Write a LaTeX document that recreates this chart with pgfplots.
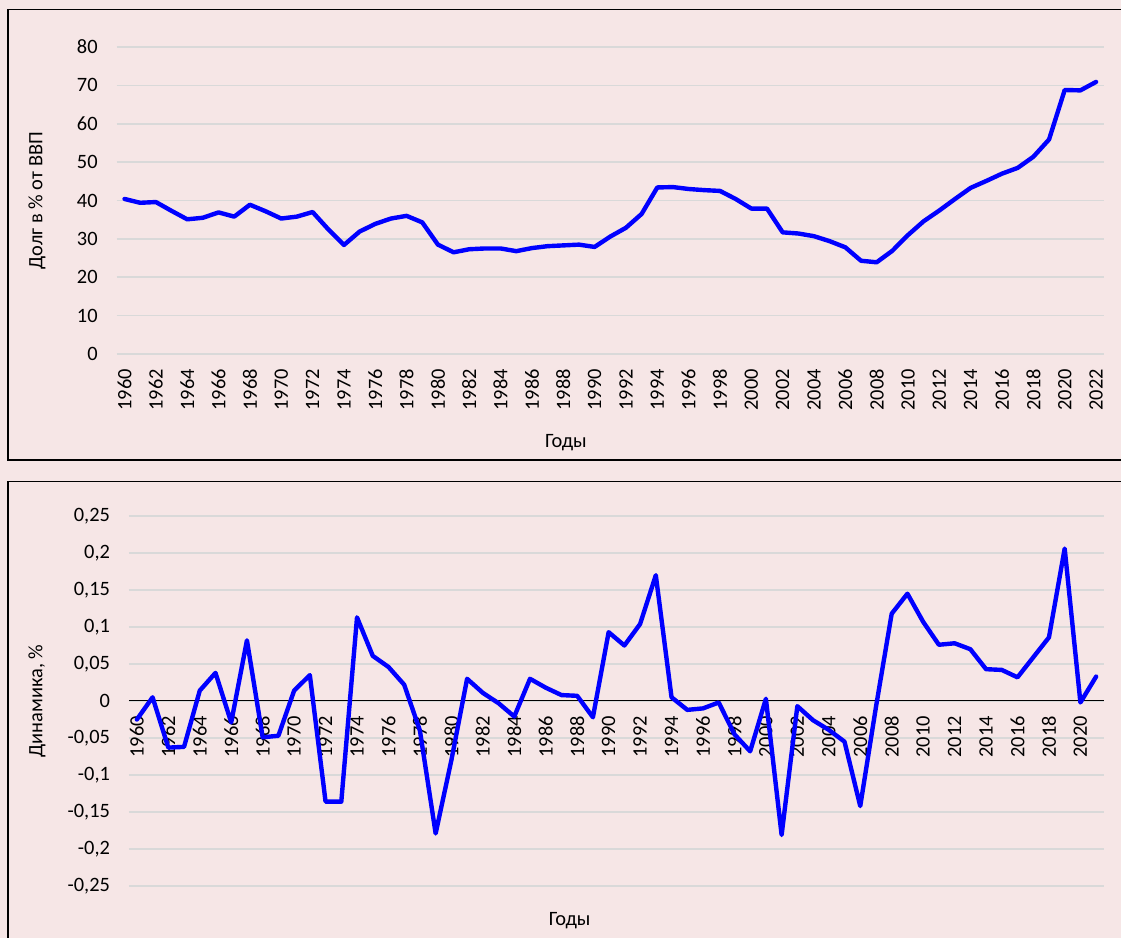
\documentclass[border=0pt]{standalone}
\usepackage{fontspec}
\setmainfont{Carlito}
\usepackage{pgfplots}
\pgfplotsset{compat=1.18}

\definecolor{bgpink}{RGB}{246,230,230}
\definecolor{gridgray}{RGB}{217,217,217}
\definecolor{lineblue}{RGB}{0,0,255}

\pgfplotsset{
  panel/.style={
    scale only axis,
    /pgf/number format/assume math mode=true,
    /pgf/number format/1000 sep={},
    ymajorgrids=true,
    grid style={gridgray, line width=0.8pt},
    major tick length=0pt,
    tick style={draw=none},
    xticklabel style={rotate=90, anchor=east},
    xticklabel shift=4pt,
    yticklabel style={anchor=east, xshift=-6pt},
    clip=false,
  },
}

\begin{document}
\begin{tikzpicture}[font=\fontsize{10.2pt}{12pt}\selectfont]
  \useasboundingbox (0,0) rectangle (560.5pt,469pt);
  \fill[bgpink] (-1pt,-1pt) rectangle (562pt,470pt);
  \draw[black, line width=0.6pt] (4pt,464.2pt) rectangle (563pt,239pt);
  \draw[black, line width=0.6pt] (4pt,228.2pt) rectangle (563pt,-3pt);

  % upper panel: debt, % of GDP
  \begin{axis}[panel,
      at={(58.35pt,292pt)}, anchor=south west,
      width=493.6pt, height=153.5pt,
      axis line style={draw=none},
      xmin=1959.5, xmax=2022.5,
      ymin=0, ymax=80,
      xtick={1960,1962,...,2022},
      ytick={0,10,...,80},
      xlabel={Годы},
      ylabel={Долг в \% от ВВП},
      xlabel style={at={(axis description cs:0.455,-0.29)}, anchor=center},
      ylabel style={at={(axis description cs:-0.0807,0.5)}, anchor=center, rotate=0},
  ]
  \addplot[lineblue, line width=2.2pt, line join=round, line cap=round] coordinates {
    (1960,40.4) (1961,39.4) (1962,39.6) (1963,37.3) (1964,35.1) (1965,35.5)
    (1966,36.9) (1967,35.8) (1968,38.9) (1969,37.2) (1970,35.3) (1971,35.8)
    (1972,37.0) (1973,32.5) (1974,28.4) (1975,31.9) (1976,33.9) (1977,35.3)
    (1978,36.0) (1979,34.3) (1980,28.5) (1981,26.5) (1982,27.3) (1983,27.5)
    (1984,27.5) (1985,26.8) (1986,27.6) (1987,28.1) (1988,28.3) (1989,28.5)
    (1990,27.9) (1991,30.6) (1992,32.9) (1993,36.5) (1994,43.4) (1995,43.5)
    (1996,43.0) (1997,42.7) (1998,42.5) (1999,40.4) (2000,37.9) (2001,37.9)
    (2002,31.7) (2003,31.4) (2004,30.7) (2005,29.4) (2006,27.8) (2007,24.3)
    (2008,23.9) (2009,26.9) (2010,31.0) (2011,34.6) (2012,37.4) (2013,40.4)
    (2014,43.3) (2015,45.1) (2016,47.0) (2017,48.5) (2018,51.4) (2019,55.9)
    (2020,68.8) (2021,68.7) (2022,70.9)
  };
  \end{axis}

  % lower panel: year-on-year change
  \begin{axis}[panel,
      at={(64.5pt,26pt)}, anchor=south west,
      width=487.5pt, height=185pt,
      axis x line=middle, axis y line=left,
      x axis line style={black, line width=0.5pt, -},
      y axis line style={draw=none},
      xmin=1959.5, xmax=2021.5,
      ymin=-0.25, ymax=0.25,
      xtick={1960,1962,...,2020},
      ytick={-0.25,-0.2,-0.15,-0.1,-0.05,0,0.05,0.1,0.15,0.2,0.25},
      yticklabels={{-0,25},{-0,2},{-0,15},{-0,1},{-0,05},{0},{0,05},{0,1},{0,15},{0,2},{0,25}},
      xlabel={Годы},
      ylabel={Динамика, \%},
      xlabel style={at={(axis description cs:0.452,-0.0946)}, anchor=center},
      ylabel style={at={(axis description cs:-0.0944,0.5)}, anchor=center, rotate=0},
  ]
  \addplot[lineblue, line width=2.2pt, line join=round, line cap=round] coordinates {
    (1960,-0.025) (1961,0.005) (1962,-0.063) (1963,-0.062) (1964,0.014) (1965,0.038)
    (1966,-0.029) (1967,0.082) (1968,-0.049) (1969,-0.047) (1970,0.014) (1971,0.035)
    (1972,-0.136) (1973,-0.136) (1974,0.113) (1975,0.061) (1976,0.046) (1977,0.022)
    (1978,-0.040) (1979,-0.179) (1980,-0.080) (1981,0.030) (1982,0.011) (1983,-0.003)
    (1984,-0.021) (1985,0.030) (1986,0.018) (1987,0.008) (1988,0.007) (1989,-0.022)
    (1990,0.093) (1991,0.075) (1992,0.104) (1993,0.170) (1994,0.005) (1995,-0.012)
    (1996,-0.010) (1997,-0.002) (1998,-0.045) (1999,-0.068) (2000,0.003) (2001,-0.181)
    (2002,-0.007) (2003,-0.026) (2004,-0.039) (2005,-0.055) (2006,-0.142) (2007,-0.008)
    (2008,0.118) (2009,0.145) (2010,0.107) (2011,0.076) (2012,0.078) (2013,0.070)
    (2014,0.043) (2015,0.042) (2016,0.032) (2017,0.059) (2018,0.086) (2019,0.206)
    (2020,-0.002) (2021,0.033)
  };
  \end{axis}
\end{tikzpicture}
\end{document}
